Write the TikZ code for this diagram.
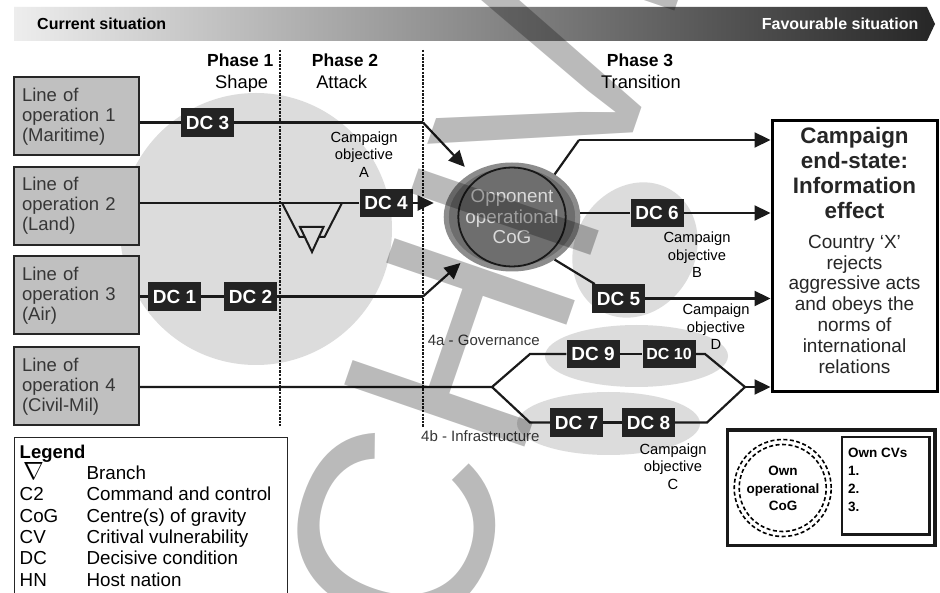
\documentclass[tikz,border=0pt]{standalone}
\usepackage{fontspec}
\setmainfont{Liberation Sans}
\usetikzlibrary{arrows.meta,shapes.geometric}
\newcommand\myfs[2]{\fontsize{#1}{#2}\selectfont}
\definecolor{dcfill}{HTML}{232323}
\definecolor{loboxfill}{HTML}{C0C0C0}
\definecolor{lightbg}{HTML}{DCDCDC}
\definecolor{txtgray}{HTML}{363636}
\definecolor{cogfill}{HTML}{6E6E6E}
\definecolor{cogring}{HTML}{8C8C8C}
\definecolor{cogtext}{HTML}{DADADA}
\definecolor{linecol}{HTML}{1A1A1A}
\begin{document}
\begin{tikzpicture}[x=1pt,y=-1pt,
  conn/.style={draw=linecol, line width=2.2pt},
  arr/.style={conn, -{Triangle[length=16pt,width=15pt]}},
  vline/.style={draw=linecol, line width=1.6pt, dash pattern=on 2.4pt off 1.2pt},
  brs/.style={draw=linecol, line width=2pt},
  lobox/.style={rectangle, draw=black!85, line width=2pt, fill=loboxfill,
    minimum width=125pt, minimum height=78pt, text width=109pt, inner xsep=8pt,
    align=left, text=txtgray, font=\myfs{18.5}{20}},
  dcbox/.style={rectangle, fill=dcfill, minimum width=53pt, minimum height=28.5pt,
    inner sep=0pt, text=white, font=\bfseries\myfs{19}{20}},
  phb/.style={anchor=base, inner sep=0pt, font=\bfseries\myfs{17.5}{20}},
  phr/.style={anchor=base, inner sep=0pt, font=\myfs{18.3}{20}},
  cobj/.style={align=center, inner sep=0pt, font=\myfs{14.7}{17.5}},
  lbl4/.style={anchor=base west, inner sep=0pt, text=txtgray, font=\myfs{15}{17}},
  lgd/.style={anchor=base west, inner sep=0pt, font=\myfs{18.8}{21}},
]
\useasboundingbox (0,0) rectangle (940,593);
\clip (0,0) rectangle (940,593);
\fill[white] (0,0) rectangle (940,593);

% light background shapes
\fill[lightbg] (256,229) circle [radius=136pt];
\fill[lightbg, rotate around={-30:(635,250)}] (635,250) ellipse [x radius=60pt, y radius=70pt];
\fill[lightbg] (636.5,356) ellipse [x radius=91.5pt, y radius=31pt];
\fill[lightbg] (608.5,423.5) ellipse [x radius=91.5pt, y radius=31.5pt];

% header band
\shade[left color=black!7, right color=black!85] (14,7) -- (927,7) -- (935,24) -- (927,41) -- (14,41) -- cycle;
\node[anchor=base west, inner sep=0pt, font=\bfseries\myfs{16}{18}] (cur) at (37,29.7) {Current situation};
\node[anchor=base east, inner sep=0pt, text=white, font=\bfseries\myfs{16}{18}] (fav) at (918.5,29.7) {Favourable situation};

% phase labels
\node[phb] (ph1) at (240.3,66.7) {Phase 1};
\node[phr] (ph1s) at (241.7,89) {Shape};
\node[phb] (ph2) at (345,66.7) {Phase 2};
\node[phr] (ph2s) at (341.7,89) {Attack};
\node[phb] (ph3) at (640,66.7) {Phase 3};
\node[phr] (ph3s) at (641,89) {Transition};

% phase separators
\coordinate (v1t) at (280,50);
\coordinate (v1b) at (280,426);
\coordinate (v2t) at (423,50);
\coordinate (v2b) at (423,427);
\draw[vline] (v1t) -- (v1b);
\draw[vline] (v2t) -- (v2b);

% lines of operation
\node[lobox] (lo1) at (76.5,116.5) {Line of\\operation 1\\(Maritime)};
\node[lobox] (lo2) at (76.5,206) {Line of\\operation 2\\(Land)};
\node[lobox] (lo3) at (76.5,295.5) {Line of\\operation 3\\(Air)};
\node[lobox] (lo4) at (76.5,386.5) {Line of\\operation 4\\(Civil-Mil)};

% decisive conditions
\node[dcbox] (dc3) at (207.5,122.5) {DC 3};
\node[dcbox] (dc4) at (386,203) {DC 4};
\node[dcbox] (dc1) at (174.5,296.5) {DC 1};
\node[dcbox] (dc2) at (250.5,296.5) {DC 2};
\node[dcbox] (dc6) at (657,213) {DC 6};
\node[dcbox] (dc5) at (618.5,298.5) {DC 5};
\node[dcbox] (dc9) at (593,354) {DC 9};
\node[dcbox, font=\bfseries\myfs{16}{18}] (dc10) at (669,354) {DC 10};
\node[dcbox] (dc7) at (576.5,422.5) {DC 7};
\node[dcbox] (dc8) at (648.5,422.5) {DC 8};

% opponent CoG
\node[ellipse, minimum width=113pt, minimum height=104pt, inner sep=0pt, fill=cogfill,
  draw=cogring, line width=5pt, text=cogtext, align=center, font=\myfs{18.8}{20.5}]
  (cog) at (512,217) {Opponent\\operational\\CoG};
\draw[line width=1.8pt, black!90] (cog.center) ellipse [x radius=53.7pt, y radius=49.5pt];

% end state box
\node[draw=black, line width=3pt, minimum width=165pt, minimum height=271pt, inner sep=0pt] (endst) at (854.5,256.5) {};
\node[align=center, inner sep=0pt, text=black!85, font=\bfseries\myfs{22.4}{25}] (endtitle) at (854.5,173.4) {Campaign\\end-state:\\Information\\effect};
\node[align=center, inner sep=0pt, text=black!85, font=\myfs{19}{20.8}] (endbody) at (854.5,304.1) {Country ‘X’\\rejects\\aggressive acts\\and obeys the\\norms of\\international\\relations};

% waypoints
\coordinate (b1) at (423,122.5);
\coordinate (b3) at (423,296.5);
\coordinate (up1) at (579,140);
\coordinate (sp) at (492,387);
\coordinate (u1) at (530,354);
\coordinate (u2) at (705,354);
\coordinate (d1) at (530,422.5);
\coordinate (d2) at (707,422.5);
\coordinate (mg) at (745,387);

% connectors
\draw[conn] (lo1.east |- dc3) -- (dc3);
\draw[conn] (dc3) -- (b1);
\draw[arr, shorten >=9pt] (b1) -- (cog);
\draw[conn] (lo2.east |- dc4) -- (dc4);
\draw[arr, shorten >=10pt] (dc4) -- (dc4 -| cog.west);
\draw[conn] (lo3.east |- dc1) -- (dc1);
\draw[conn] (dc1) -- (dc2);
\draw[conn] (dc2) -- (b3);
\draw[arr, shorten >=8pt] (b3) -- (cog);
\draw[conn] (cog.45) -- (up1);
\draw[arr] (up1) -- (up1 -| endst.west);
\draw[conn] (cog.east |- dc6) -- (dc6);
\draw[arr] (dc6) -- (dc6 -| endst.west);
\draw[conn] (cog.-45) -- (dc5);
\draw[arr] (dc5) -- (dc5 -| endst.west);
\draw[conn] (lo4.east |- sp) -- (sp) -- (u1) -- (dc9);
\draw[conn] (dc9) -- (dc10);
\draw[conn] (dc10) -- (u2) -- (mg);
\draw[conn] (sp) -- (d1) -- (dc7);
\draw[conn] (dc7) -- (dc8);
\draw[conn] (dc8) -- (d2) -- (mg);
\draw[arr] (mg) -- (mg -| endst.west);

% branch symbol
\coordinate (brA) at (282,203);
\coordinate (brB) at (299.5,237);
\coordinate (brC) at (304.5,237);
\coordinate (brD) at (342,203);
\coordinate (brE) at (324.5,237);
\coordinate (brF) at (319,237);
\coordinate (trA) at (300,227);
\coordinate (trB) at (323.5,227);
\coordinate (trC) at (312,252);
\draw[brs] (brA) -- (brB) -- (brC);
\draw[brs] (brD) -- (brE) -- (brF);
\draw[brs] (trA) -- (trB) -- (trC) -- cycle;

% labels
\node[cobj] (coA) at (364,154.2) {Campaign\\objective\\A};
\node[cobj] (coB) at (697,255) {Campaign\\objective\\B};
\node[cobj] (coD) at (716,327) {Campaign\\objective\\D};
\node[cobj] (coC) at (673,466.7) {Campaign\\objective\\C};
\node[lbl4] (l4a) at (427.7,345.4) {4a - Governance};
\node[lbl4] (l4b) at (421,442) {4b - Infrastructure};

% legend
\node[draw=black!85, line width=1pt, fill=white, minimum width=273pt, minimum height=190pt, inner sep=0pt, anchor=north west] (lgbox) at (14,437) {};
\node[lgd, font=\bfseries\myfs{18.5}{21}] (lgt) at (19.5,458.5) {Legend};
\node[lgd, font=\myfs{23}{25}] (lg1a) at (23,479.5) {$\nabla$};
\node[lgd] (lg1b) at (86.3,479.5) {Branch};
\node[lgd] (lg2a) at (19.5,500.8) {C2};
\node[lgd] (lg2b) at (86.3,500.8) {Command and control};
\node[lgd] (lg3a) at (19.5,522.1) {CoG};
\node[lgd] (lg3b) at (86.3,522.1) {Centre(s) of gravity};
\node[lgd] (lg4a) at (19.5,543.4) {CV};
\node[lgd] (lg4b) at (86.3,543.4) {Critival vulnerability};
\node[lgd] (lg5a) at (19.5,564.7) {DC};
\node[lgd] (lg5b) at (86.3,564.7) {Decisive condition};
\node[lgd] (lg6a) at (19.5,586) {HN};
\node[lgd] (lg6b) at (86.3,586) {Host nation};

% own CoG box
\node[draw=black!90, line width=3.5pt, fill=white, minimum width=207.5pt, minimum height=115.3pt, inner sep=0pt] (ownbox) at (831.2,487.7) {};
\node[draw=black!90, line width=2.2pt, minimum width=87.5pt, minimum height=97.5pt, inner sep=0pt] (cvbox) at (885.7,485.7) {};
\coordinate (owncog) at (782.7,488);
\draw[line width=1.6pt, dash pattern=on 4pt off 2.5pt] (owncog) circle [radius=48.5pt];
\draw[line width=1.6pt, dash pattern=on 4pt off 2.5pt] (owncog) circle [radius=43.5pt];
\node[align=center, inner sep=0pt, font=\bfseries\myfs{13.5}{17.5}] (owntxt) at (783,488.4) {Own\\operational\\CoG};
\node[anchor=west, align=left, inner sep=0pt, font=\bfseries\myfs{13.5}{17.8}] (cvtxt) at (848,479.9) {Own CVs\\1.\\2.\\3.};

% watermark
\node[anchor=base west, inner sep=0pt, rotate=71, text=black, text opacity=0.27, font=\myfs{277}{285}] (wm) at (327,1022) {ARCHIVED};
\end{tikzpicture}
\end{document}
